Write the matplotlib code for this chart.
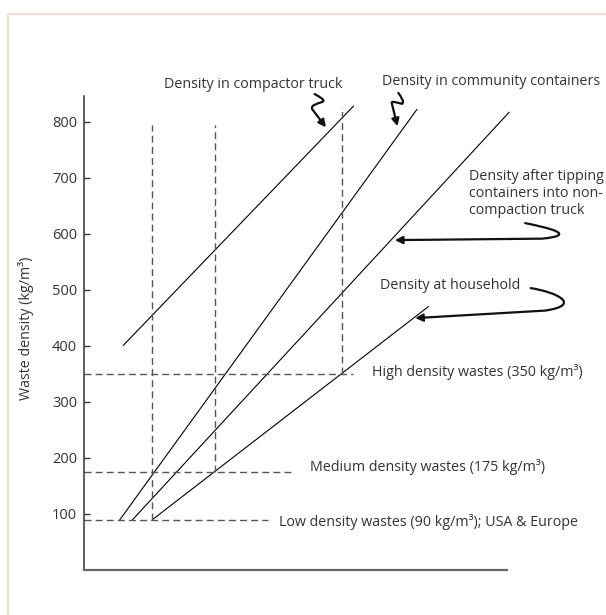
import matplotlib
matplotlib.use("Agg")
from matplotlib import pyplot as plt
from matplotlib.path import Path
from matplotlib.patches import FancyArrowPatch
from matplotlib.lines import Line2D

plt.rcParams['font.family'] = ['Open Sans', 'DejaVu Sans']

# waste density in kg/m3; the x axis has no scale in the original
compactor_x = [9.3, 63.7]
compactor_y = [401, 828]
community_x = [8.5, 78.7]
community_y = [90, 822]
tipping_x = [11.5, 100.5]
tipping_y = [90, 817]
household_x = [16.2, 81.4]
household_y = [90, 470]

# reference densities (horizontal dashed lines)
ref_density = [90, 175, 350]
ref_end_x = [43.5, 49.2, 63.6]
ref_labels = ['Low density wastes (90 kg/m³); USA & Europe',
              'Medium density wastes (175 kg/m³)',
              'High density wastes (350 kg/m³)']

# vertical dashed lines
vert_x = [16.0, 31.0, 60.9]
vert_bottom = [90, 175, 350]
vert_top = [794, 794, 826]

yticks = [100, 200, 300, 400, 500, 600, 700, 800]

text_col = '#333333'
dash_col = '#555555'

fig = plt.figure(figsize=(6.06, 6.15), dpi=100)
ax = fig.add_axes([84 / 606, 45 / 615, 423 / 606, 474 / 615])
ax.set_xlim(0, 100)
ax.set_ylim(0, 846)

# page border (only top and left edges are visible)
bx = 8 / 606
by = (615 - 14) / 615
fig.add_artist(Line2D([bx, 1.0], [by, by], transform=fig.transFigure,
                      color='#fcd6c6', lw=1.3))
fig.add_artist(Line2D([bx, bx], [0.0, by], transform=fig.transFigure,
                      color='#fcd6c6', lw=1.3))

for xs, ys in [(compactor_x, compactor_y), (community_x, community_y),
               (tipping_x, tipping_y), (household_x, household_y)]:
    ax.plot(xs, ys, color='black', lw=0.8, clip_on=False)

dash = (0, (5, 3))
for d, xe in zip(ref_density, ref_end_x):
    ax.plot([0, xe], [d, d], color=dash_col, lw=1.0, ls=dash, clip_on=False)
for xv, yb, yt in zip(vert_x, vert_bottom, vert_top):
    ax.plot([xv, xv], [yb, yt], color=dash_col, lw=1.0, ls=dash, clip_on=False)

fs = 10.3
ax.text(46.1, 86, ref_labels[0], fontsize=fs, color=text_col, va='center')
ax.text(53.4, 184, ref_labels[1], fontsize=fs, color=text_col, va='center')
ax.text(68.2, 353, ref_labels[2], fontsize=fs, color=text_col, va='center')

ax.text(18.9, 866, 'Density in compactor truck', fontsize=fs, color=text_col,
        va='center', clip_on=False)
ax.text(70.4, 871, 'Density in community containers', fontsize=fs,
        color=text_col, va='center', clip_on=False)
ax.text(91.0, 672, 'Density after tipping\ncontainers into non-\ncompaction truck',
        fontsize=fs, color=text_col, va='center', linespacing=1.22)
ax.text(70.0, 507, 'Density at household', fontsize=fs, color=text_col,
        va='center')

# curly arrows
C4 = Path.CURVE4
arrows = [
    ([(104.3, 619.1), (110.2, 610.2), (116.8, 597.7), (108.3, 591.4), (73.5, 588.8)],
     [Path.MOVETO, C4, C4, C4, Path.LINETO]),
    ([(105.6, 503.1), (111.8, 496.0), (117.9, 472.8), (109.0, 463.0), (78.3, 449.6)],
     [Path.MOVETO, C4, C4, C4, Path.LINETO]),
    ([(54.5, 849.5), (56.0, 843.0), (57.3, 838.0), (56.2, 835.0),
      (55.0, 832.0), (53.4, 829.0), (54.0, 822.0), (57.2, 790.0)],
     [Path.MOVETO, C4, C4, C4, C4, C4, C4, Path.LINETO]),
    ([(74.3, 851.5), (75.0, 844.0), (75.8, 836.0), (75.2, 832.0),
      (74.0, 834.0), (72.4, 839.0), (72.8, 832.0), (74.1, 792.0)],
     [Path.MOVETO, C4, C4, C4, C4, C4, C4, Path.LINETO]),
]
for verts, codes in arrows:
    ar = FancyArrowPatch(path=Path(verts, codes), arrowstyle='-|>',
                         mutation_scale=11, lw=1.6, color='#111111',
                         joinstyle='round', capstyle='round', clip_on=False)
    ax.add_patch(ar)

ax.spines['top'].set_visible(False)
ax.spines['right'].set_visible(False)
ax.spines['left'].set_color('#333333')
ax.spines['left'].set_linewidth(1.1)
ax.spines['bottom'].set_color('#666666')
ax.spines['bottom'].set_linewidth(1.6)

ax.set_xticks([])
ax.set_yticks(yticks)
ax.tick_params(axis='y', direction='in', length=4.5, width=1.0,
               color='#333333', labelcolor=text_col, labelsize=10.5, pad=5)

ax.text(-0.137, 0.51, 'Waste density (kg/m³)', transform=ax.transAxes,
        rotation=90, ha='center', va='center', fontsize=fs, color=text_col)

fig.savefig('out.png', dpi=100)
